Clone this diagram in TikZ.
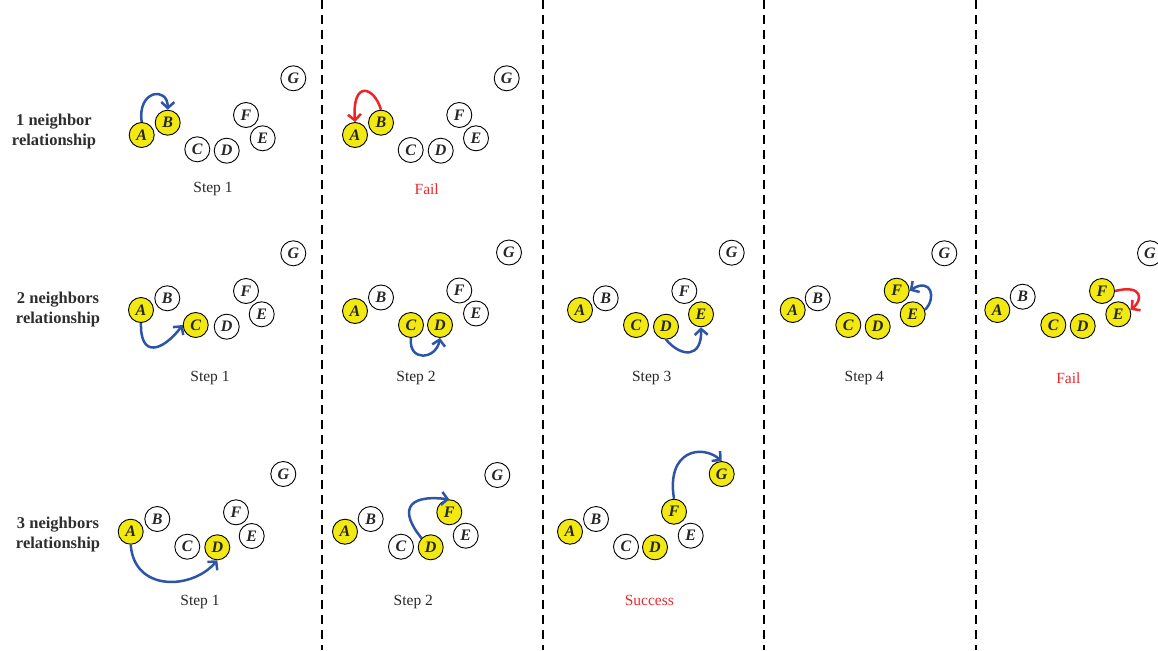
\documentclass[tikz,border=0pt]{standalone}
\usepackage{fontspec}
\setmainfont{Liberation Serif}
\usetikzlibrary{arrows.meta}
\definecolor{ylw}{RGB}{242,232,18}
\definecolor{arblue}{RGB}{46,84,166}
\definecolor{arred}{RGB}{238,36,38}
\definecolor{txtred}{RGB}{234,40,44}
\tikzset{
  off/.style={circle,draw=black,line width=0.9pt,fill=white,minimum size=25pt,inner sep=0pt,
    font=\fontsize{16}{16}\selectfont\bfseries\itshape,text=black!85},
  on/.style={off,fill=ylw},
  moveb/.style={draw=arblue,line width=2.5pt,-{Straight Barb[length=6pt,width=13pt]}},
  mover/.style={draw=arred,line width=2.5pt,-{Straight Barb[length=6pt,width=13pt]}},
  rowlab/.style={align=center,font=\fontsize{16.5}{20}\selectfont\bfseries,text=black!82},
  steplab/.style={font=\fontsize{15.5}{16}\selectfont,text=black!85},
  faillab/.style={font=\fontsize{15.5}{16}\selectfont,text=txtred},
  sep/.style={line width=1.3pt,dash pattern=on 9pt off 6pt}
}
\begin{document}
\begin{tikzpicture}[x=1pt,y=-1pt]
\useasboundingbox (0,0) rectangle (1158,650);
\clip (0,0) rectangle (1158,650);
% separators
\coordinate (s1t) at (322,0); \coordinate (s1b) at (322,650);
\coordinate (s2t) at (543,0); \coordinate (s2b) at (543,650);
\coordinate (s3t) at (764,0); \coordinate (s3b) at (764,650);
\coordinate (s4t) at (976,0); \coordinate (s4b) at (976,650);
\draw[sep] (s1t) -- (s1b);
\draw[sep] (s2t) -- (s2b);
\draw[sep] (s3t) -- (s3b);
\draw[sep] (s4t) -- (s4b);
% row labels
\node[rowlab] (r1) at (54,132) {1 neighbor\\relationship};
\node[rowlab] (r2) at (58,310) {2 neighbors\\relationship};
\node[rowlab] (r3) at (58,535) {3 neighbors\\relationship};
% ---------- Row 1 Panel 1
\node[on]  (a1A) at (141.7,135) {A};
\node[on]  (a1B) at (167.7,122.7) {B};
\node[off] (a1C) at (197.3,149.3) {C};
\node[off] (a1D) at (226.7,150.7) {D};
\node[off] (a1F) at (246,115) {F};
\node[off] (a1E) at (262.7,138.3) {E};
\node[off] (a1G) at (293.3,78.3) {G};
\node[steplab] (a1L) at (213,189) {Step 1};
\draw[moveb] (a1A.north) .. controls (137,90) and (168,86) .. (a1B.north);
% ---------- Row 1 Panel 2
\node[on]  (a2A) at (355,135) {A};
\node[on]  (a2B) at (381,122.7) {B};
\node[off] (a2C) at (410.7,150) {C};
\node[off] (a2D) at (440.7,150.7) {D};
\node[off] (a2F) at (459.3,115) {F};
\node[off] (a2E) at (476,138.3) {E};
\node[off] (a2G) at (506.7,78.3) {G};
\node[faillab] (a2L) at (426.7,189) {Fail};
\draw[mover] (a2B.north) .. controls (374,86) and (352,80) .. (a2A.north);
% ---------- Row 2 Panel 1
\node[on]  (b1A) at (141,310) {A};
\node[off] (b1B) at (167.3,298.3) {B};
\node[on]  (b1C) at (195.7,325) {C};
\node[off] (b1D) at (226.7,326.7) {D};
\node[off] (b1F) at (246,291) {F};
\node[off] (b1E) at (261.7,314.3) {E};
\node[off] (b1G) at (293.3,253.3) {G};
\node[steplab] (b1L) at (210,378.3) {Step 1};
\draw[moveb] (b1A.south) .. controls (140,358) and (162,352) .. (b1C.west);
% ---------- Row 2 Panel 2
\node[on]  (b2A) at (355,311) {A};
\node[off] (b2B) at (381,297.5) {B};
\node[on]  (b2C) at (411,325) {C};
\node[on]  (b2D) at (440,325) {D};
\node[off] (b2F) at (459.3,290.5) {F};
\node[off] (b2E) at (476,313.5) {E};
\node[off] (b2G) at (509,252.5) {G};
\node[steplab] (b2L) at (416,378.3) {Step 2};
\draw[moveb] (b2C.south) .. controls (408,362) and (436,360) .. (b2D.south);
% ---------- Row 2 Panel 3
\node[on]  (b3A) at (580,310) {A};
\node[off] (b3B) at (605.7,298.3) {B};
\node[on]  (b3C) at (636,325) {C};
\node[on]  (b3D) at (666,326.7) {D};
\node[off] (b3F) at (684.3,291) {F};
\node[on]  (b3E) at (701,314.3) {E};
\node[off] (b3G) at (731.7,252.7) {G};
\node[steplab] (b3L) at (651.7,378.3) {Step 3};
\draw[moveb] (b3D.south) .. controls (682,358) and (702,358) .. (b3E.south);
% ---------- Row 2 Panel 4
\node[on]  (b4A) at (792.7,310) {A};
\node[off] (b4B) at (817.7,298.3) {B};
\node[on]  (b4C) at (848.3,325) {C};
\node[on]  (b4D) at (877.7,326.7) {D};
\node[on]  (b4F) at (896.7,290.7) {F};
\node[on]  (b4E) at (912.7,314.3) {E};
\node[off] (b4G) at (944.3,253.3) {G};
\node[steplab] (b4L) at (864.3,378.3) {Step 4};
\draw[moveb] (b4E.20) .. controls (937,298) and (931,277) .. (b4F.east);
% ---------- Row 2 Panel 5
\node[on]  (b5A) at (997.3,310) {A};
\node[off] (b5B) at (1022.7,296.7) {B};
\node[on]  (b5C) at (1053.3,325) {C};
\node[on]  (b5D) at (1082.7,326) {D};
\node[on]  (b5F) at (1102,291) {F};
\node[on]  (b5E) at (1118.3,314.3) {E};
\node[off] (b5G) at (1150,253.3) {G};
\node[faillab] (b5L) at (1068.3,378.3) {Fail};
\draw[mover] (b5F.east) .. controls (1143,284) and (1143,300) .. (b5E.20);
% ---------- Row 3 Panel 1
\node[on]  (c1A) at (130.7,531.7) {A};
\node[off] (c1B) at (157.3,519) {B};
\node[off] (c1C) at (187.3,546.7) {C};
\node[on]  (c1D) at (217.3,547.3) {D};
\node[off] (c1F) at (236,512.3) {F};
\node[off] (c1E) at (251.7,536) {E};
\node[off] (c1G) at (283.3,474) {G};
\node[steplab] (c1L) at (200,601.7) {Step 1};
\draw[moveb] (c1A.south) .. controls (134,592) and (192,590) .. (c1D.south);
% ---------- Row 3 Panel 2
\node[on]  (c2A) at (345,531.7) {A};
\node[off] (c2B) at (370.7,519) {B};
\node[off] (c2C) at (401,546.7) {C};
\node[on]  (c2D) at (430.7,547.3) {D};
\node[on]  (c2F) at (449.3,512.3) {F};
\node[off] (c2E) at (465.7,535.7) {E};
\node[off] (c2G) at (497.3,475) {G};
\node[steplab] (c2L) at (413.3,601.7) {Step 2};
\draw[moveb] (c2D.north west) .. controls (400,512) and (405,494) .. (c2F.north);
% ---------- Row 3 Panel 3
\node[on]  (c3A) at (570,531.7) {A};
\node[off] (c3B) at (596,519) {B};
\node[off] (c3C) at (626,546.7) {C};
\node[on]  (c3D) at (655,547.3) {D};
\node[on]  (c3F) at (674,511.7) {F};
\node[off] (c3E) at (690.7,535.7) {E};
\node[on]  (c3G) at (721.7,474) {G};
\node[faillab] (c3L) at (649.3,600.7) {Success};
\draw[moveb] (c3F.north) .. controls (666,450) and (702,444) .. (c3G.north);
\end{tikzpicture}
\end{document}
